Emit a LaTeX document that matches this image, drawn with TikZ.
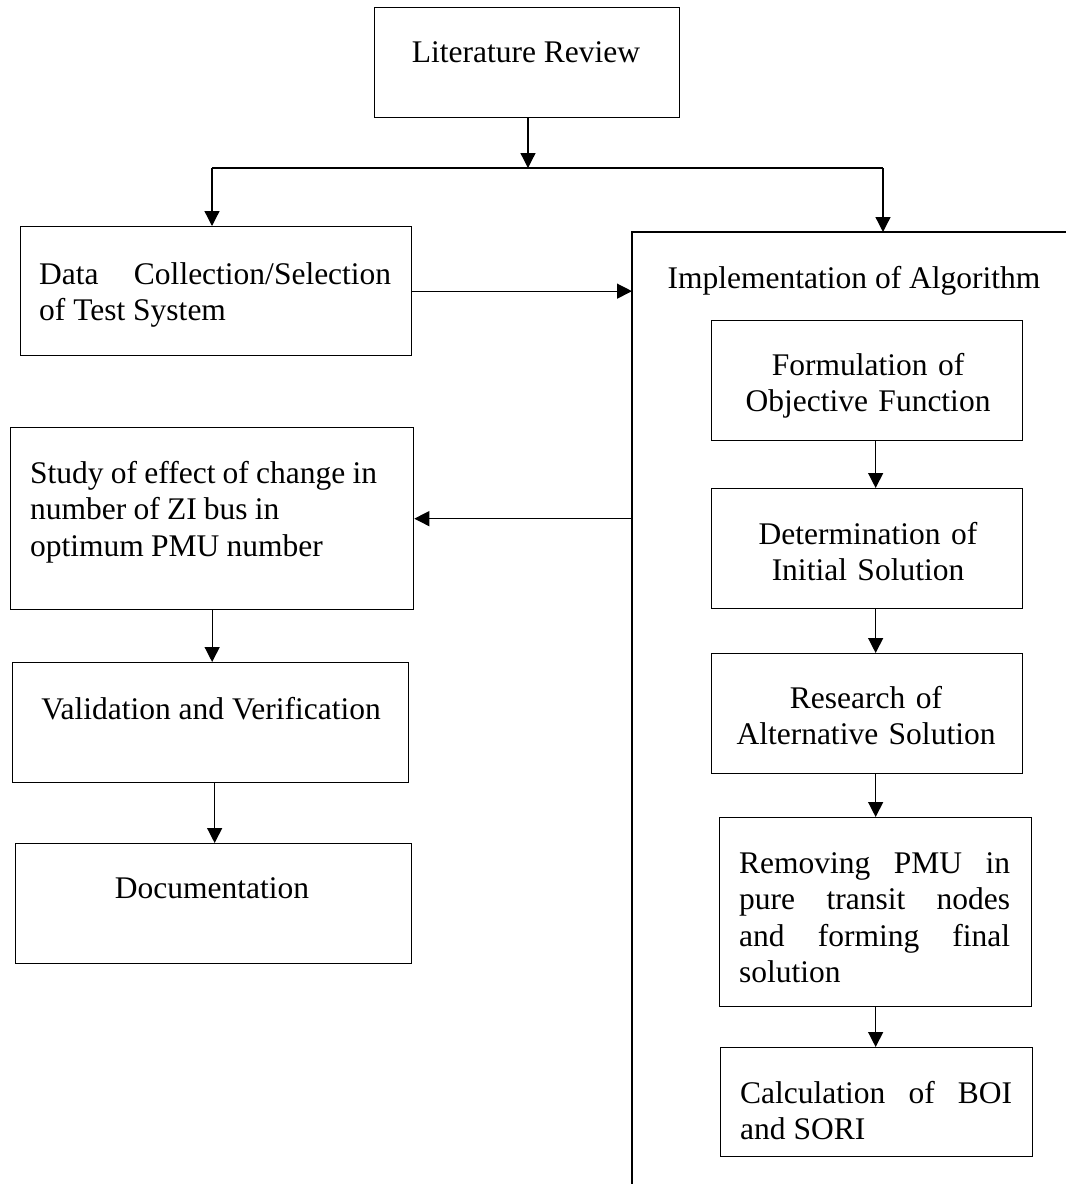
\documentclass[tikz,border=0pt]{standalone}
\usepackage{fontspec}
\setmainfont{Liberation Serif}
\usetikzlibrary{arrows.meta}
\begin{document}
\begin{tikzpicture}[x=1pt,y=-1pt,
  box/.style={draw, line width=1.3pt, rectangle, inner sep=0pt, anchor=north west},
  txt/.style={inner sep=0pt, font=\fontsize{31.5}{36.6}\selectfont},
  arr/.style={line width=1.3pt, -{Triangle[length=15pt,width=15pt]}},
  ln/.style={line width=1.3pt}]
\useasboundingbox (0,0) rectangle (1066,1184);

% boxes
\node[box, minimum width=305pt, minimum height=110pt] (lit) at (374,7) {};
\node[box, minimum width=391pt, minimum height=129pt] (data) at (20,226) {};
\node[box, minimum width=311pt, minimum height=120pt] (form) at (711,320) {};
\node[box, minimum width=311pt, minimum height=120pt] (det) at (711,488) {};
\node[box, minimum width=311pt, minimum height=120pt] (res) at (711,653) {};
\node[box, minimum width=312pt, minimum height=189pt] (rem) at (719,817) {};
\node[box, minimum width=312pt, minimum height=109pt] (calc) at (720,1047) {};
\node[box, minimum width=403pt, minimum height=182pt] (study) at (10,427) {};
\node[box, minimum width=396pt, minimum height=120pt] (valid) at (12,662) {};
\node[box, minimum width=396pt, minimum height=120pt] (doc) at (15,843) {};

% texts
\node[txt, anchor=base] (litT) at (526,62) {Literature Review};
\node[txt, anchor=base west, text width=352pt, align=justify] (dataT) at (39,284) {Data Collection/Selection\linebreak of Test System};
\node[txt, anchor=base] (implT) at (854,288) {Implementation of Algorithm};
\node[txt, anchor=base, text width=311pt, align=center] (formT) at (868,375) {Formulation of\\Objective Function};
\node[txt, anchor=base, text width=311pt, align=center] (detT) at (868,544) {Determination of\\Initial Solution};
\node[txt, anchor=base, text width=311pt, align=center] (resT) at (866,708) {Research of\\Alternative Solution};
\node[txt, anchor=base west, text width=271pt, align=justify] (remT) at (739,873) {Removing PMU in\linebreak pure transit nodes\linebreak and forming final\linebreak solution};
\node[txt, anchor=base west, text width=272pt, align=justify] (calcT) at (740,1103) {Calculation of BOI\linebreak and SORI};
\node[txt, anchor=base west, text width=383pt, align=left] (studyT) at (30,483) {\spaceskip=7.2pt plus 0pt minus 0pt\relax Study of effect of change in\\number of ZI bus in\\optimum PMU number};
\node[txt, anchor=base] (validT) at (211,719) {Validation and Verification};
\node[txt, anchor=base] (docT) at (212,898) {Documentation};

% connector points
\coordinate (j0) at (528,168);
\coordinate (jl) at (212,168);
\coordinate (jr) at (883,168);
\coordinate (implc) at (632,232);
\coordinate (implr) at (1066,232);
\coordinate (implb) at (632,1184);

% frame of implementation block
\draw[ln] (implr) -- (implc) -- (implb);

% connectors
\draw[ln] (jl) -- (jr);
\draw[arr] (lit.south -| j0) -- (j0);
\draw[arr] (jl) -- (jl |- data.north);
\draw[arr] (jr) -- (jr |- implc);
\draw[arr] (data.east) -- (data.east -| implc);
\draw[arr] (study.east -| implc) -- (study.east);
\draw[arr] (study.south) -- (study.south |- valid.north);
\draw[arr] ([xshift=4pt]valid.south) -- ([xshift=4pt]valid.south |- doc.north);
\draw[arr] (form.south -| rem.north) -- (det.north -| rem.north);
\draw[arr] (det.south -| rem.north) -- (res.north -| rem.north);
\draw[arr] (res.south -| rem.north) -- (rem.north);
\draw[arr] (rem.south) -- (rem.south |- calc.north);
\end{tikzpicture}
\end{document}
